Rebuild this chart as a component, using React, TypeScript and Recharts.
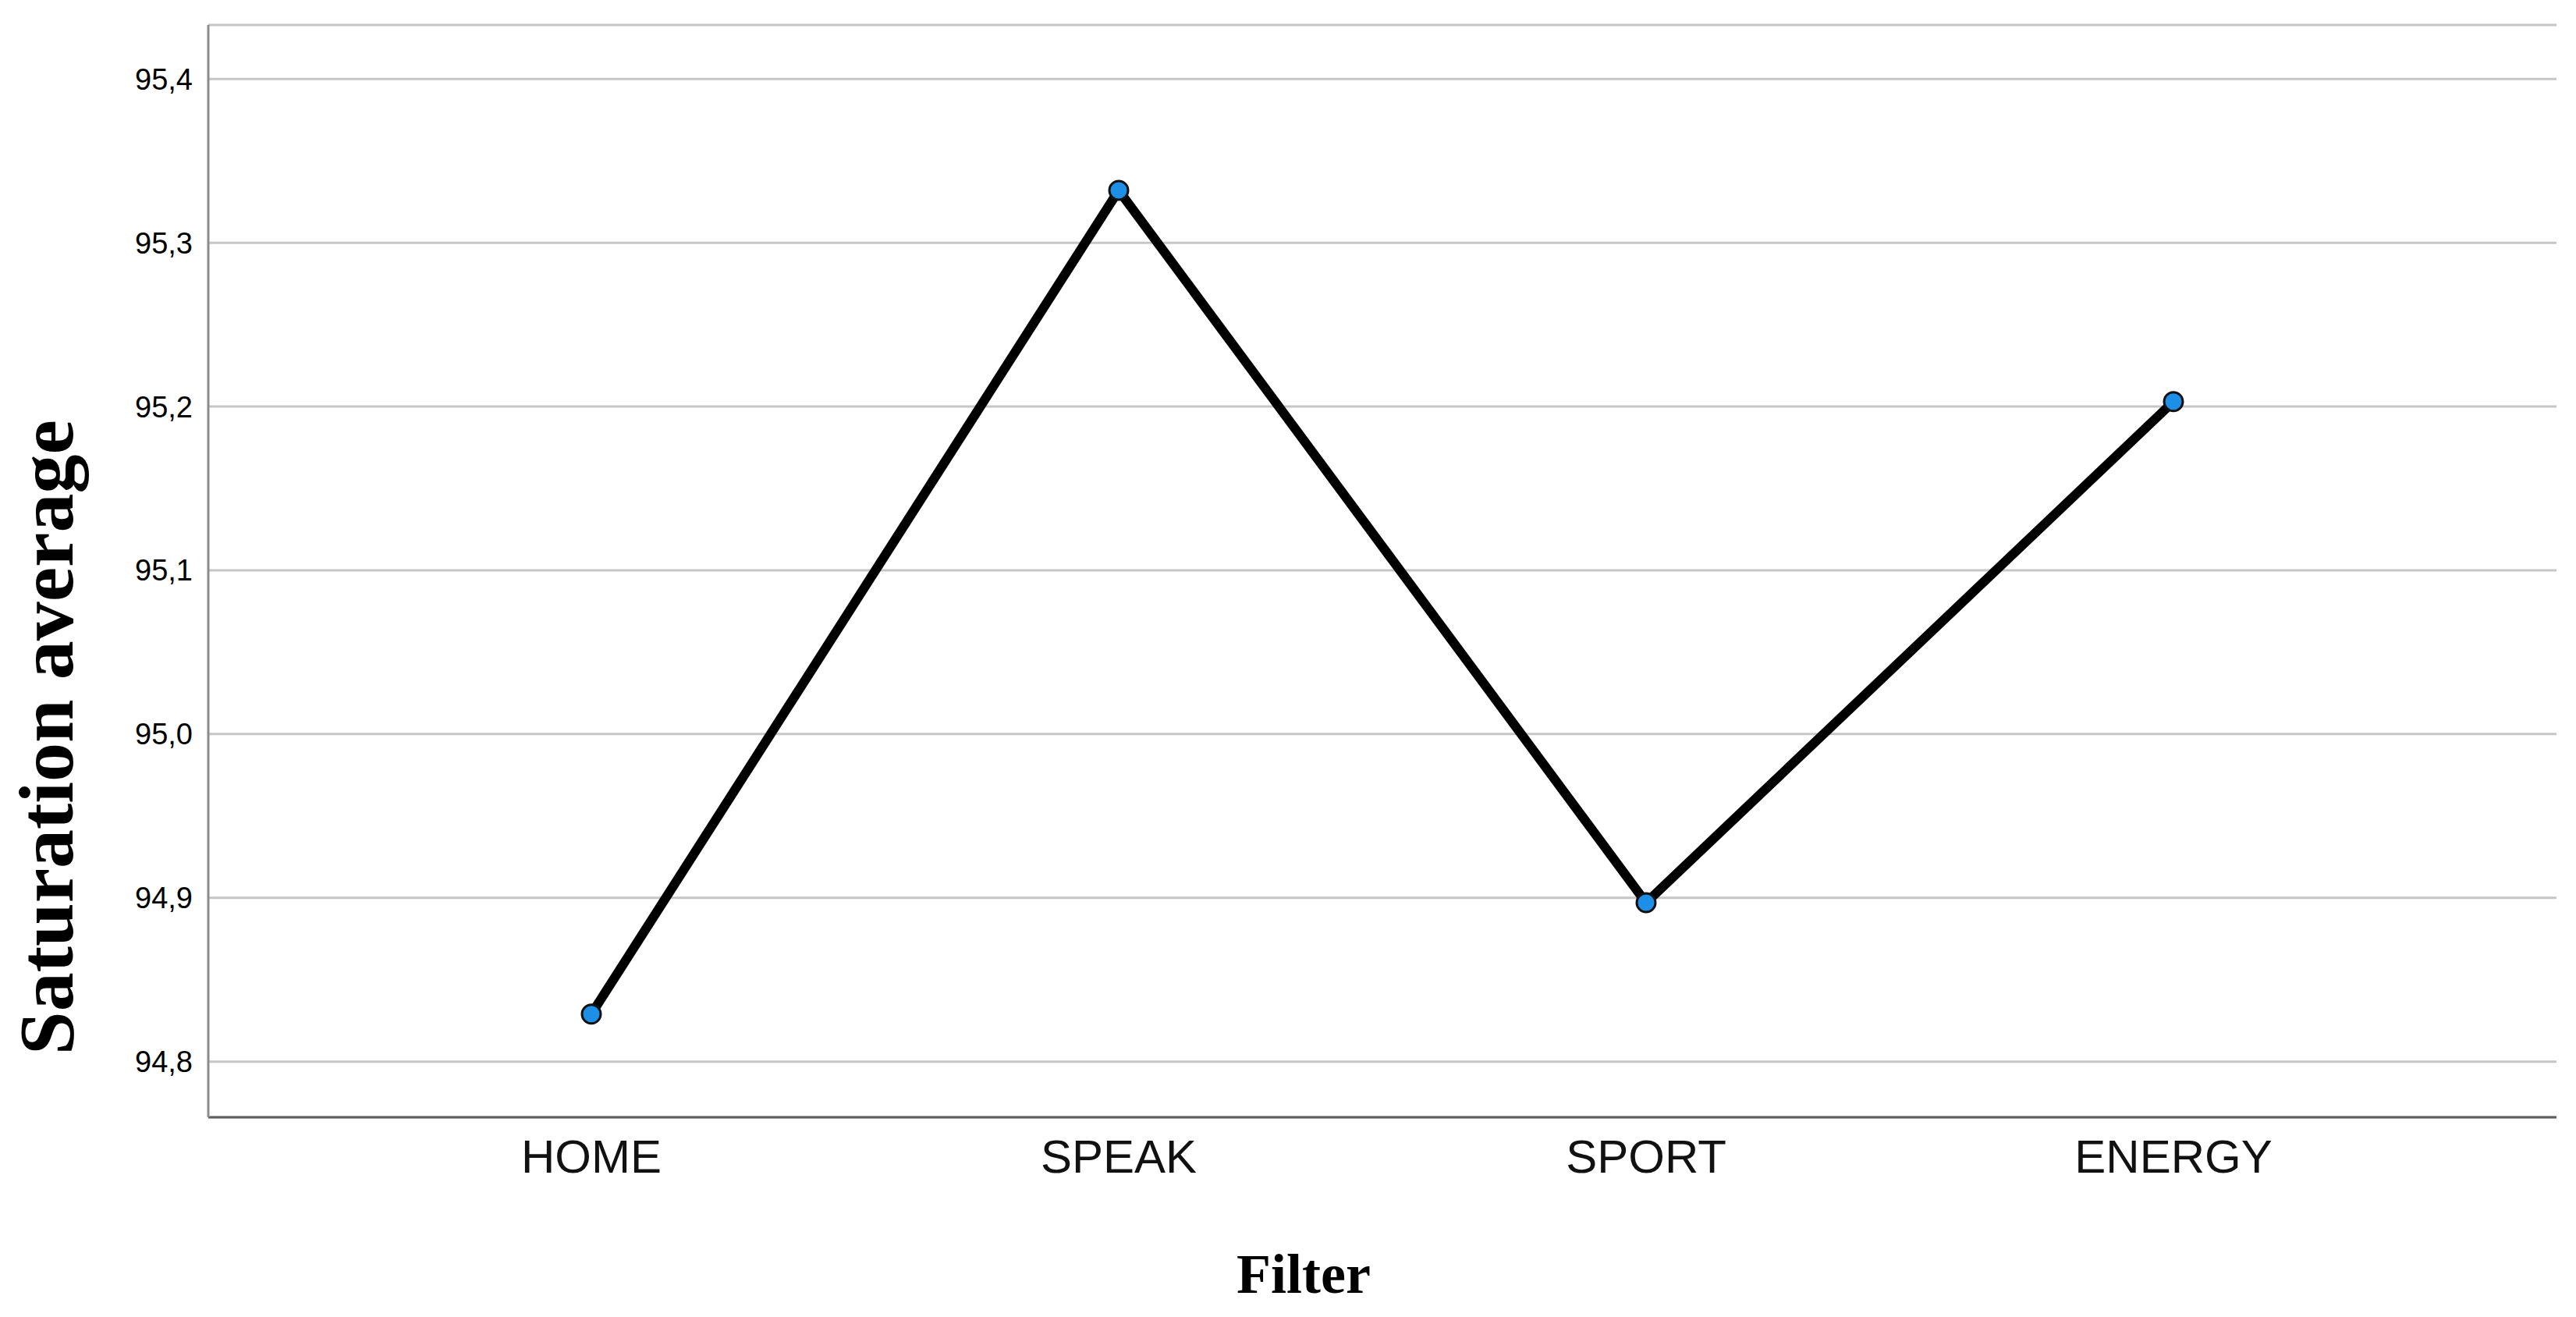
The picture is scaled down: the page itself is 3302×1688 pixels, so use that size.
import { LineChart, Line, XAxis, YAxis, CartesianGrid } from "recharts";

const filters = ["HOME", "SPEAK", "SPORT", "ENERGY"];
const saturation = [94.829, 95.332, 94.897, 95.203];
const yTicks = [94.8, 94.9, 95.0, 95.1, 95.2, 95.3, 95.4];

const data = filters.map((f, i) => ({ filter: f, value: saturation[i] }));

const sans = "'Liberation Sans', Arial, sans-serif";
const serif = "'Liberation Serif', 'Times New Roman', serif";

function YTitle(props: any) {
  const vb = props.viewBox || { x: 0, y: 0, width: 0, height: 0 };
  const x = 93;
  const y = vb.y + vb.height / 2 + 213;
  return (
    <text
      x={x}
      y={y}
      transform={`rotate(-90, ${x}, ${y})`}
      textAnchor="middle"
      fontFamily={serif}
      fontWeight="bold"
      fontSize={100}
      fill="#000"
    >
      Saturation average
    </text>
  );
}

function XTitle(props: any) {
  const vb = props.viewBox || { x: 0, y: 0, width: 0, height: 0 };
  return (
    <text
      x={vb.x + vb.width / 2 - 101}
      y={1657}
      textAnchor="middle"
      fontFamily={serif}
      fontWeight="bold"
      fontSize={72}
      fill="#000"
    >
      Filter
    </text>
  );
}

export default function App() {
  return (
    <div style={{ width: 3302, height: 1688, background: "#fff" }}>
      <style>{"body{margin:0}"}</style>
      <LineChart
        width={3302}
        height={1688}
        data={data}
        margin={{ top: 32, right: 25, bottom: 0, left: 0 }}
      >
        <CartesianGrid
          vertical={false}
          stroke="#c6c6c6"
          strokeWidth={3}
        />
        <XAxis
          dataKey="filter"
          type="category"
          height={256}
          padding={{ left: 491, right: 491 }}
          axisLine={{ stroke: "#5e5e5e", strokeWidth: 3 }}
          tickLine={false}
          tickSize={0}
          tickMargin={28}
          tick={{ fill: "#111", fontSize: 60, fontFamily: sans }}
          label={<XTitle />}
        />
        <YAxis
          type="number"
          width={267}
          domain={[94.766, 95.433]}
          ticks={yTicks}
          allowDataOverflow
          interval={0}
          axisLine={{ stroke: "#8c8c8c", strokeWidth: 3 }}
          tickLine={false}
          tickSize={0}
          tickMargin={20}
          tickFormatter={(v: number) => v.toFixed(1).replace(".", ",")}
          tick={{ fill: "#000", fontSize: 38, fontFamily: sans }}
          label={<YTitle />}
        />
        <Line
          type="linear"
          dataKey="value"
          stroke="#000"
          strokeWidth={12}
          dot={{ r: 12, fill: "#1e8fe6", stroke: "#111", strokeWidth: 3 }}
          activeDot={false}
          isAnimationActive={false}
        />
      </LineChart>
    </div>
  );
}
